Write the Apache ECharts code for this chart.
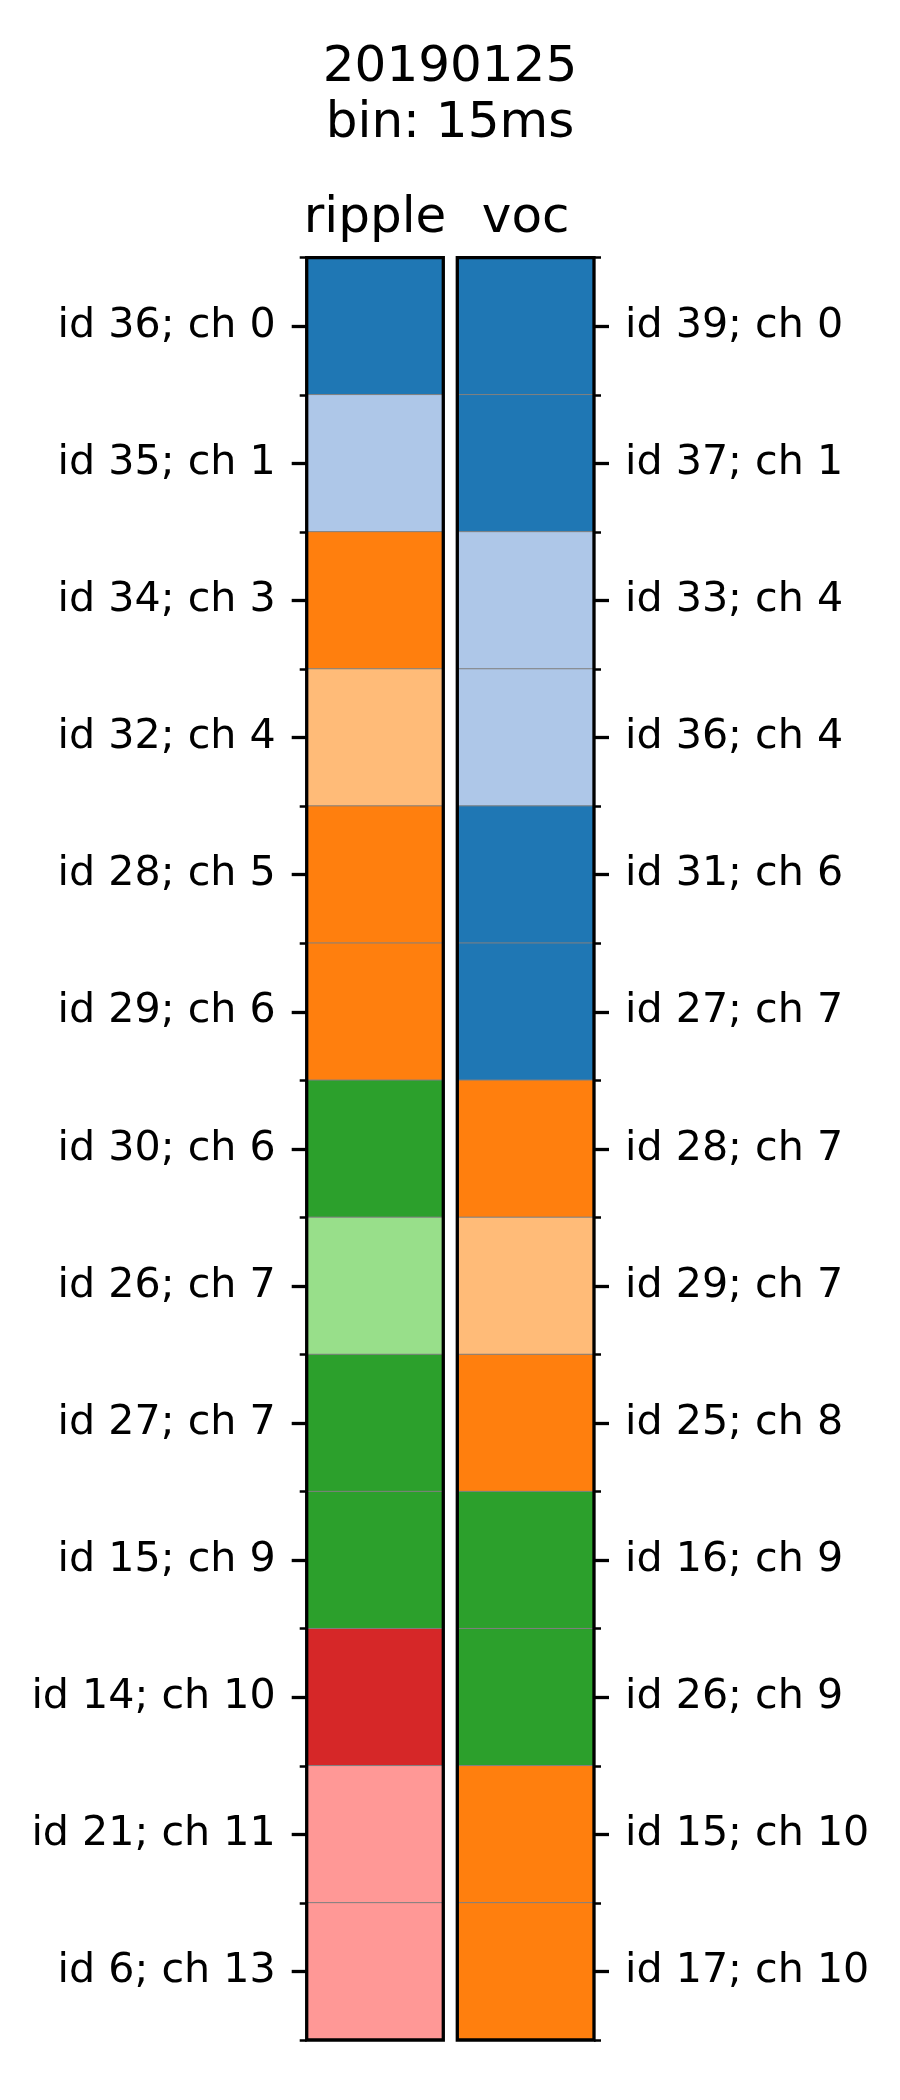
<!DOCTYPE html>
<html>
<head>
<meta charset="utf-8">
<script src="https://cdn.jsdelivr.net/npm/echarts@6/dist/echarts.min.js"></script>
<style>html,body{margin:0;padding:0;background:#fff}#c{width:900px;height:2100px}</style>
</head>
<body>
<div id="c"></div>
<script>
const titleLines = ['20190125', 'bin: 15ms'];
const panels = ['ripple', 'voc'];
const rippleLabels = ['id 36; ch 0','id 35; ch 1','id 34; ch 3','id 32; ch 4','id 28; ch 5','id 29; ch 6','id 30; ch 6','id 26; ch 7','id 27; ch 7','id 15; ch 9','id 14; ch 10','id 21; ch 11','id 6; ch 13'];
const vocLabels = ['id 39; ch 0','id 37; ch 1','id 33; ch 4','id 36; ch 4','id 31; ch 6','id 27; ch 7','id 28; ch 7','id 29; ch 7','id 25; ch 8','id 16; ch 9','id 26; ch 9','id 15; ch 10','id 17; ch 10'];
const rippleValues = [0,1,2,3,2,2,4,5,4,4,6,7,7];
const vocValues = [0,0,1,1,0,0,2,3,2,4,4,2,2];
const palette = ['#1f77b4','#aec7e8','#ff7f0e','#ffbb78','#2ca02c','#98df8a','#d62728','#ff9896'];

const FONT = 'DejaVu Sans';
const nRows = rippleLabels.length;
const plotTop = 257.7, plotHeight = 1782.3;
const grids = [
  {left: 306.7, top: plotTop, width: 136.6, height: plotHeight},
  {left: 457.3, top: plotTop, width: 136.7, height: plotHeight}
];
const chart = echarts.init(document.getElementById('c'), null, {renderer: 'canvas'});

function catAxis(gi, labels, pos) {
  return {
    type: 'category', gridIndex: gi, data: labels, inverse: true, position: pos, z: 10,
    axisLine: {show: false},
    axisTick: {show: true, alignWithLabel: true, length: 15, lineStyle: {color: '#000', width: 3.3}},
    axisLabel: {show: true, margin: 31, fontFamily: FONT, fontSize: 41.2, color: '#000', padding: [12, 0, 0, 0]},
    splitLine: {show: false}
  };
}
function minorAxis(gi, pos) {
  return {
    type: 'value', gridIndex: gi, min: 0, max: nRows, interval: 1, position: pos, z: 10,
    axisLine: {show: false},
    axisTick: {show: true, length: 7, lineStyle: {color: '#000', width: 2.5}},
    axisLabel: {show: false},
    splitLine: {show: false}
  };
}
function xAx(gi, name) {
  return {
    type: 'category', gridIndex: gi, data: [name], position: 'top',
    axisLine: {show: false}, axisTick: {show: false}, splitLine: {show: false},
    axisLabel: {show: true, margin: 14, fontFamily: FONT, fontSize: 50, color: '#000'}
  };
}
function cells(vals) { return vals.map((v, i) => [0, i, v]); }

chart.setOption({
  animation: false,
  backgroundColor: '#fff',
  title: {
    text: titleLines.join('\n'), left: 'center', top: 35,
    textStyle: {fontFamily: FONT, fontSize: 50, fontWeight: 'normal', color: '#000', lineHeight: 56}
  },
  grid: grids.map(g => Object.assign({show: true, borderColor: '#000', borderWidth: 3.3, backgroundColor: 'transparent', z: 10}, g)),
  xAxis: [xAx(0, panels[0]), xAx(1, panels[1])],
  yAxis: [catAxis(0, rippleLabels, 'left'), minorAxis(0, 'left'), catAxis(1, vocLabels, 'right'), minorAxis(1, 'right')],
  visualMap: {
    type: 'piecewise', show: false, dimension: 2, seriesIndex: [0, 1],
    pieces: palette.map((c, i) => ({value: i, color: c}))
  },
  series: [
    {type: 'heatmap', xAxisIndex: 0, yAxisIndex: 0, data: cells(rippleValues), z: 2,
     itemStyle: {borderColor: '#808080', borderWidth: 1}},
    {type: 'heatmap', xAxisIndex: 1, yAxisIndex: 2, data: cells(vocValues), z: 2,
     itemStyle: {borderColor: '#808080', borderWidth: 1}}
  ]
});
</script>
</body>
</html>
